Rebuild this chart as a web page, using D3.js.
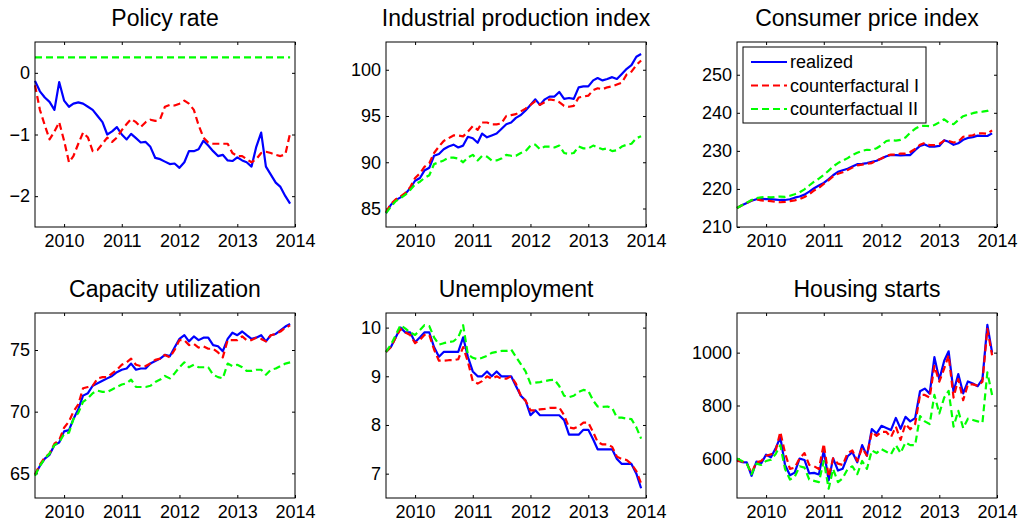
<!DOCTYPE html>
<html>
<head>
<meta charset="utf-8">
<script src="https://cdn.jsdelivr.net/npm/d3@7"></script>
<style>
  body { margin: 0; background: #fff; }
  text { font-family: "Liberation Sans", Arial, sans-serif; fill: #000; }
</style>
</head>
<body>
<div id="chart"></div>
<script>
// monthly data, Jul 2009 - Dec 2013
var yearTicks = [2010, 2011, 2012, 2013, 2014];
var seriesNames = ["realized", "counterfactural I", "counterfactual II"];

var policyRealized = [-0.13,-0.3,-0.4,-0.47,-0.6,-0.15,-0.45,-0.55,-0.5,-0.48,-0.5,-0.55,-0.6,-0.7,-0.8,-1.0,-0.95,-0.88,-1.0,-1.08,-0.99,-1.06,-1.13,-1.12,-1.2,-1.38,-1.4,-1.44,-1.48,-1.47,-1.54,-1.45,-1.27,-1.27,-1.24,-1.1,-1.18,-1.27,-1.35,-1.33,-1.42,-1.43,-1.37,-1.42,-1.45,-1.52,-1.2,-0.97,-1.52,-1.65,-1.78,-1.85,-2.0,-2.12];
var policyCf1 = [-0.2,-0.6,-0.85,-1.08,-0.95,-0.8,-1.1,-1.45,-1.35,-1.15,-0.97,-1.05,-1.27,-1.25,-1.15,-1.05,-1.12,-1.05,-0.93,-0.83,-0.75,-0.8,-0.88,-0.8,-0.76,-0.78,-0.75,-0.55,-0.52,-0.53,-0.5,-0.45,-0.5,-0.6,-0.85,-1.05,-1.13,-1.15,-1.15,-1.15,-1.15,-1.3,-1.35,-1.35,-1.4,-1.45,-1.4,-1.3,-1.28,-1.3,-1.33,-1.35,-1.32,-0.98];
var policyCf2 = [0.25,0.25,0.25,0.25,0.25,0.25,0.25,0.25,0.25,0.25,0.25,0.25,0.25,0.25,0.25,0.25,0.25,0.25,0.25,0.25,0.25,0.25,0.25,0.25,0.25,0.25,0.25,0.25,0.25,0.25,0.25,0.25,0.25,0.25,0.25,0.25,0.25,0.25,0.25,0.25,0.25,0.25,0.25,0.25,0.25,0.25,0.25,0.25,0.25,0.25,0.25,0.25,0.25,0.25];
var policyTicks = [-2, -1, 0];

var ipRealized = [84.5,85.4,85.9,86.2,86.6,87.2,88.0,88.3,89.1,89.4,90.7,90.9,91.4,91.7,91.9,91.6,91.8,92.75,92.6,92.1,93.1,92.7,92.9,93.1,93.6,94.1,94.3,94.8,95.1,95.6,96.2,96.8,96.2,96.8,97.1,97.1,97.6,96.85,96.95,96.85,98.1,98.2,98.2,98.85,99.1,98.85,99.0,99.2,99.0,99.55,100.1,100.5,101.4,101.7];
var ipCf1 = [84.6,85.5,86.0,86.3,86.7,87.3,88.3,88.8,89.5,89.9,91.0,91.7,92.3,92.6,92.9,92.9,92.8,93.3,93.9,93.5,94.3,94.3,94.1,94.1,94.2,95.0,95.1,95.2,95.5,95.8,96.2,96.6,96.2,96.5,96.8,96.7,96.5,96.1,96.0,96.1,97.0,97.1,97.2,97.8,98.0,97.9,98.1,98.2,98.4,98.6,99.5,99.8,100.5,101.0];
var ipCf2 = [84.5,85.2,85.8,86.1,86.5,87.0,87.6,87.9,88.3,88.6,89.8,90.0,90.2,90.5,90.5,90.4,90.0,90.5,90.8,90.2,90.7,90.6,90.2,90.2,90.4,90.8,90.7,90.7,91.0,91.2,91.8,91.9,91.4,91.7,91.7,91.6,91.8,91.0,90.9,91.0,91.7,91.5,91.5,91.8,91.6,91.4,91.5,91.2,91.3,91.7,91.9,92.0,92.6,92.8];
var ipTicks = [85, 90, 95, 100];

var cpiRealized = [215.0,215.7,216.3,216.9,217.3,217.4,217.3,217.3,217.2,217.1,217.1,217.3,217.7,218.0,218.5,219.3,220.2,220.9,221.6,222.6,223.6,224.5,224.9,225.3,225.9,226.5,226.6,226.8,227.1,227.4,228.0,228.6,228.9,228.9,228.8,228.9,228.9,230.2,231.3,231.7,231.1,231.1,231.3,232.8,232.4,231.6,232.0,232.9,233.4,233.6,234.0,233.9,233.9,234.6];
var cpiCf1 = [215.0,215.7,216.3,217.0,217.3,217.0,216.9,216.8,216.6,216.5,216.6,216.8,217.0,217.3,217.9,218.6,219.6,220.3,221.3,222.3,223.3,224.0,224.4,225.0,225.6,226.2,226.4,226.6,226.8,227.4,228.0,228.7,229.0,229.0,229.3,229.3,229.7,230.5,231.6,232.1,231.5,231.5,231.8,232.7,232.6,232.2,232.4,233.7,233.9,234.1,234.6,234.6,234.5,235.4];
var cpiCf2 = [215.0,215.7,216.4,217.1,217.6,217.8,217.9,217.8,217.9,218.0,217.9,218.2,218.6,219.1,219.9,220.9,221.9,222.7,223.7,224.8,225.9,226.8,227.4,228.1,228.9,229.5,230.0,230.3,230.2,230.7,231.5,232.6,232.8,232.7,232.9,233.5,234.8,235.8,236.5,236.6,236.5,236.8,237.5,238.3,237.4,237.0,238.1,239.1,239.5,239.9,240.2,240.3,240.5,241.0];
var cpiTicks = [210, 220, 230, 240, 250];

var capRealized = [64.9,65.6,66.2,66.5,67.3,67.5,68.4,68.5,69.4,70.2,71.3,71.5,72.1,72.3,72.5,72.7,72.9,73.2,73.4,73.5,73.9,73.4,73.5,73.5,73.9,74.1,74.3,74.6,74.5,75.2,75.9,76.2,75.7,76.1,75.8,76.0,76.0,75.4,75.3,74.9,75.9,76.4,76.2,76.5,76.2,75.9,76.0,76.2,75.7,76.2,76.3,76.6,76.9,77.1];
var capCf1 = [64.9,65.7,66.3,66.6,67.4,67.7,68.7,69.2,70.0,70.6,71.9,72.0,72.1,72.7,72.8,72.8,73.1,73.4,73.8,74.0,74.3,73.8,73.7,73.7,73.9,74.2,74.3,74.6,74.4,75.0,75.8,75.8,75.4,75.5,75.2,75.3,75.1,75.1,74.8,74.4,75.8,75.8,75.8,76.1,75.8,75.8,76.0,75.9,75.7,76.2,76.3,76.5,76.8,77.0];
var capCf2 = [64.8,65.6,66.2,66.6,67.3,67.5,68.2,68.3,69.4,69.9,70.8,71.1,71.5,71.7,71.6,71.6,71.8,72.0,72.2,72.3,72.6,72.0,72.0,72.0,72.1,72.4,72.6,72.9,72.7,73.1,73.6,74.0,73.6,73.8,73.6,73.6,73.6,73.0,72.8,72.7,73.9,73.7,73.8,73.6,73.3,73.3,73.4,73.4,73.0,73.4,73.5,73.7,73.9,74.0];
var capTicks = [65, 70, 75];

var unRealized = [9.5,9.6,9.8,10.0,9.9,9.9,9.7,9.8,9.9,9.9,9.6,9.4,9.5,9.5,9.5,9.5,9.8,9.4,9.1,9.0,9.0,9.1,9.0,9.1,9.0,9.0,9.0,8.8,8.6,8.5,8.2,8.3,8.2,8.2,8.2,8.2,8.2,8.1,7.8,7.8,7.8,7.9,7.9,7.7,7.5,7.5,7.5,7.5,7.3,7.2,7.2,7.2,7.0,6.7];
var unCf1 = [9.5,9.6,9.8,9.97,9.9,9.85,9.68,9.75,9.85,9.85,9.55,9.32,9.32,9.33,9.33,9.35,9.6,9.3,8.9,8.85,8.9,9.0,8.95,9.0,8.95,8.95,9.0,8.85,8.6,8.5,8.3,8.3,8.32,8.33,8.35,8.35,8.36,8.2,7.95,7.93,7.97,8.05,8.05,7.85,7.65,7.6,7.6,7.55,7.35,7.3,7.28,7.2,7.05,6.8];
var unCf2 = [9.5,9.65,9.85,10.05,9.98,9.9,9.85,9.95,10.05,10.03,9.8,9.65,9.68,9.7,9.72,9.8,10.05,9.45,9.38,9.35,9.38,9.42,9.48,9.5,9.52,9.52,9.55,9.4,9.25,9.1,8.85,8.87,8.88,8.9,8.92,8.93,8.8,8.6,8.57,8.6,8.68,8.72,8.7,8.5,8.38,8.37,8.38,8.35,8.15,8.15,8.13,8.12,7.95,7.72];
var unTicks = [7, 8, 9, 10];

var hsRealized = [594,586,585,534,588,581,614,604,636,680,575,536,546,599,594,543,545,539,630,517,600,554,561,608,623,585,650,610,711,694,723,715,707,753,712,757,740,752,854,864,845,983,898,969,1005,852,919,846,891,883,873,900,1105,1000];
var hsCf1 = [590,588,580,545,585,590,610,615,625,700,620,560,565,600,620,575,570,560,655,530,600,580,575,620,630,590,640,610,700,685,700,700,680,720,670,730,710,730,840,840,830,950,890,940,990,830,900,820,880,880,875,890,1090,990];
var hsCf2 = [600,590,580,540,580,575,590,595,615,650,560,520,530,570,565,520,515,510,590,485,560,510,525,560,570,540,590,560,630,620,635,625,615,650,620,660,650,650,760,740,730,840,770,830,855,720,780,715,750,745,740,735,925,840];
var hsTicks = [600, 800, 1000];

var panels = [
  {title: "Policy rate", domain: [-2.5, 0.5], ticks: policyTicks, series: [policyRealized, policyCf1, policyCf2]},
  {title: "Industrial production index", domain: [83, 103], ticks: ipTicks, series: [ipRealized, ipCf1, ipCf2]},
  {title: "Consumer price index", domain: [210, 258.6], ticks: cpiTicks, series: [cpiRealized, cpiCf1, cpiCf2], legend: true},
  {title: "Capacity utilization", domain: [63, 78], ticks: capTicks, series: [capRealized, capCf1, capCf2]},
  {title: "Unemployment", domain: [6.5, 10.3], ticks: unTicks, series: [unRealized, unCf1, unCf2]},
  {title: "Housing starts", domain: [450, 1150], ticks: hsTicks, series: [hsRealized, hsCf1, hsCf2]}
];

var colors = ["#0000ff", "#ff0000", "#00ff00"];
var dashes = [null, "7,4", "7,4"];

var width = 260, height = 185;
var lefts = [35, 386, 737], tops = [42, 313];

var months = d3.timeMonth.range(new Date(2009, 6, 1), new Date(2014, 0, 1));
var yearDates = yearTicks.map(function(y) { return new Date(y, 0, 1); });

var svg = d3.select("#chart")
  .append("svg")
    .attr("width", 1019)
    .attr("height", 527);

var x = d3.scaleTime()
    .domain([new Date(2009, 6, 1), new Date(2014, 0, 1)])
    .range([0, width]);

panels.forEach(function(p, k) {
  var g = svg.append("g")
    .attr("transform", "translate(" + lefts[k % 3] + "," + tops[Math.floor(k / 3)] + ")");

  var y = d3.scaleLinear().domain(p.domain).range([height, 0]);

  // title
  g.append("text")
    .attr("x", width / 2)
    .attr("y", -16)
    .attr("text-anchor", "middle")
    .style("font-size", "23px")
    .text(p.title);

  // axes, ticks inside on all four sides
  g.append("g").attr("transform", "translate(0," + height + ")")
    .call(d3.axisBottom(x).tickValues(yearDates).tickSize(-3).tickPadding(7).tickFormat(d3.timeFormat("%Y")));
  g.append("g").call(d3.axisTop(x).tickValues(yearDates).tickSize(-3).tickFormat(""));
  g.append("g")
    .call(d3.axisLeft(y).tickValues(p.ticks).tickSize(-3).tickPadding(5).tickFormat(d3.format("d")));
  g.append("g").attr("transform", "translate(" + width + ",0)")
    .call(d3.axisRight(y).tickValues(p.ticks).tickSize(-3).tickFormat(""));

  g.selectAll(".domain").remove();
  g.selectAll(".tick line").attr("stroke", "#000");
  g.selectAll(".tick text").style("font-size", "18px").attr("fill", "#000");

  // lines
  var line = d3.line()
    .x(function(d, i) { return x(months[i]); })
    .y(function(d) { return y(d); });

  p.series.forEach(function(s, j) {
    g.append("path")
      .datum(s)
      .attr("d", line)
      .attr("fill", "none")
      .attr("stroke", colors[j])
      .attr("stroke-width", 2.2)
      .attr("stroke-linejoin", "round")
      .attr("stroke-dasharray", dashes[j]);
  });

  // box
  g.append("rect")
    .attr("width", width)
    .attr("height", height)
    .attr("fill", "none")
    .attr("stroke", "#000")
    .attr("stroke-width", 1);

  if (p.legend) {
    var lg = g.append("g").attr("transform", "translate(6,5)");
    lg.append("rect")
      .attr("width", 183)
      .attr("height", 76)
      .attr("fill", "#fff")
      .attr("stroke", "#000");
    seriesNames.forEach(function(name, j) {
      var cy = 15 + j * 23.5;
      lg.append("line")
        .attr("x1", 8).attr("x2", 44)
        .attr("y1", cy).attr("y2", cy)
        .attr("stroke", colors[j])
        .attr("stroke-width", 2.2)
        .attr("stroke-dasharray", dashes[j]);
      lg.append("text")
        .attr("x", 47)
        .attr("y", cy + 6)
        .style("font-size", "18px")
        .text(name);
    });
  }
});
</script>
</body>
</html>
